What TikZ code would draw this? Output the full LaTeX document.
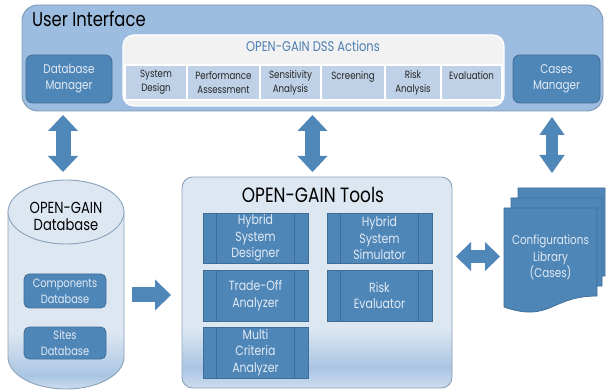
\documentclass[tikz,border=0pt]{standalone}
\usepackage{fontspec}
\setmainfont{Poppins}[FakeStretch=0.82]
\usetikzlibrary{arrows.meta,calc}
\definecolor{uiblue}{HTML}{9DBDE0}
\definecolor{uiedge}{HTML}{7E98B3}
\definecolor{dkblue}{HTML}{4F86B8}
\definecolor{dkedge}{HTML}{3E6D97}
\definecolor{dktext}{HTML}{E2EAF3}
\definecolor{panelc}{HTML}{F2F2F2}
\definecolor{cellc}{HTML}{BED1E6}
\definecolor{ttlblue}{HTML}{4A7DB2}
\definecolor{lightc}{HTML}{DDE7F2}
\definecolor{ledge}{HTML}{8DA3BA}
\definecolor{bandc}{HTML}{A9C5E3}
\definecolor{bottomc}{HTML}{D3E1EF}
\definecolor{arrowc}{HTML}{4F87B9}
\begin{document}
\begin{tikzpicture}[x=0.75pt,y=-0.75pt,
  every node/.style={inner sep=0pt, outer sep=0pt, align=center},
  dkbox/.style={draw=dkedge, fill=dkblue, text=dktext, rounded corners=5pt, line width=0.6pt,
    font=\fontsize{9.5}{12}\selectfont},
  cellbox/.style={draw=white, fill=cellc, line width=0.8pt, text=black!85,
    font=\fontsize{7.9}{10.5}\selectfont},
  toolbox/.style={draw=dkedge, fill=dkblue, text=dktext, line width=0.6pt,
    minimum width=105*0.75pt, font=\fontsize{10}{12.4}\selectfont,
    path picture={
      \draw[dkedge, line width=0.6pt] ([xshift=10pt]path picture bounding box.north west) -- ([xshift=10pt]path picture bounding box.south west);
      \draw[dkedge, line width=0.6pt] ([xshift=-10pt]path picture bounding box.north east) -- ([xshift=-10pt]path picture bounding box.south east);}},
  docsheet/.style={draw=dkedge, fill=dkblue, line width=0.6pt},
  barrowA/.style={draw=arrowc, line width=11.25pt,
    {Triangle[width=22.5pt,length=12pt,line width=0pt]}-{Triangle[width=22.5pt,length=12pt,line width=0pt]}},
  barrowB/.style={draw=arrowc, line width=9pt,
    {Triangle[width=19pt,length=13.5pt,line width=0pt]}-{Triangle[width=19pt,length=13.5pt,line width=0pt]}},
  barrowH/.style={draw=arrowc, line width=9.75pt,
    {Triangle[width=21.75pt,length=11.25pt,line width=0pt]}-{Triangle[width=21.75pt,length=11.25pt,line width=0pt]}},
  barrowS/.style={draw=arrowc, line width=11.25pt,
    -{Triangle[width=23.25pt,length=12pt,line width=0pt]}}
]
\useasboundingbox (0,0) rectangle (606,391);

% ---------- User interface ----------
\node[draw=uiedge, fill=uiblue, line width=0.7pt, rounded corners=12pt,
      minimum width=581*0.75pt, minimum height=106*0.75pt] (ui) at (312.5,58) {};
\node[anchor=west, font=\fontsize{15}{17}\selectfont] (uititle) at (32,19) {User Interface};

\node[dkbox, minimum width=86*0.75pt, minimum height=48*0.75pt] (dbm) at (69,79) {Database\\Manager};
\node[dkbox, minimum width=87*0.75pt, minimum height=48*0.75pt] (cm) at (556.5,79) {Cases\\Manager};

\node[draw=white, fill=panelc, line width=0.8pt, rounded corners=8pt,
      minimum width=381*0.75pt, minimum height=71*0.75pt] (dss) at (313.5,70.5) {};
\node[text=ttlblue, font=\fontsize{10.5}{12}\selectfont] (dsstitle) at (313,46) {OPEN-GAIN DSS Actions};

\node[cellbox, minimum width=62*0.75pt, minimum height=35*0.75pt] (c1) at (156,82.5) {System\\Design};
\node[cellbox, minimum width=73*0.75pt, minimum height=35*0.75pt] (c2) at (223.5,82.5) {Performance\\Assessment};
\node[cellbox, minimum width=61*0.75pt, minimum height=35*0.75pt] (c3) at (290.5,82.5) {Sensitivity\\Analysis};
\node[cellbox, minimum width=64*0.75pt, minimum height=35*0.75pt] (c4) at (353,82.5) {Screening\\~};
\node[cellbox, minimum width=56*0.75pt, minimum height=35*0.75pt] (c5) at (413,82.5) {Risk\\Analysis};
\node[cellbox, minimum width=61*0.75pt, minimum height=35*0.75pt] (c6) at (471.5,82.5) {Evaluation\\~};

% ---------- Database cylinder ----------
\def\cylbody{(8,212) -- (8,357) .. controls (8,374.7) and (34,389) .. (66,389) .. controls (98,389) and (124,374.7) .. (124,357) -- (124,212) -- cycle}
\fill[lightc] \cylbody;
\begin{scope}
  \clip \cylbody;
  \shade[top color=lightc, bottom color=bandc] (0,332) rectangle (130,376);
  \shade[top color=bandc, bottom color=bottomc] (0,375.5) rectangle (130,391);
\end{scope}
\draw[ledge, line width=0.7pt] \cylbody;
\fill[lightc] (66,212) ellipse [x radius=58, y radius=32];
\draw[ledge, line width=0.7pt] (66,212) ellipse [x radius=58, y radius=32];
\node[minimum width=116*0.75pt, minimum height=209*0.75pt] (cyl) at (66,284.5) {};
\node[font=\fontsize{12}{12.75}\selectfont] (dbtitle) at (66,216) {OPEN-GAIN\\Database};
\node[dkbox, rounded corners=4pt, minimum width=82*0.75pt, minimum height=34*0.75pt,
      font=\fontsize{9}{12}\selectfont] (comp) at (65,291) {Components\\Database};
\node[dkbox, rounded corners=4pt, minimum width=82*0.75pt, minimum height=32*0.75pt,
      font=\fontsize{9}{12}\selectfont] (sites) at (65,343) {Sites\\Database};

% ---------- Tools panel ----------
\def\toolsbody{[rounded corners=8pt] (182,177) rectangle (452,388)}
\fill[lightc] \toolsbody;
\begin{scope}
  \clip \toolsbody;
  \shade[top color=lightc, bottom color=bandc] (180,328) rectangle (455,368);
  \shade[top color=bandc, bottom color=bottomc] (180,367.5) rectangle (455,391);
\end{scope}
\node[draw=ledge, line width=0.7pt, rounded corners=8pt,
      minimum width=270*0.75pt, minimum height=211*0.75pt] (tools) at (317,282.5) {};
\node[font=\fontsize{15.5}{17}\selectfont] (toolstitle) at (313,195) {OPEN-GAIN Tools};

\node[toolbox, minimum height=50*0.75pt] (hsd) at (255.5,238) {Hybrid\\System\\Designer};
\node[toolbox, minimum height=50*0.75pt] (hss) at (379.5,238) {Hybrid\\System\\Simulator};
\node[toolbox, minimum height=51*0.75pt] (toa) at (255.5,295.5) {Trade-Off\\Analyzer};
\node[toolbox, minimum height=51*0.75pt] (rev) at (379.5,295.5) {Risk\\Evaluator};
\node[toolbox, minimum height=51*0.75pt] (mca) at (255.5,352.5) {Multi\\Criteria\\Analyzer};

% ---------- Configurations library ----------
\draw[docsheet] (518,188) -- (605,188) -- (605,276) .. controls (561.5,276) and (561.5,303) .. (518,287) -- cycle;
\draw[docsheet] (511,198) -- (602,198) -- (602,286) .. controls (556.5,286) and (556.5,313) .. (511,297) -- cycle;
\draw[docsheet] (504,208) -- (597,208) -- (597,296) .. controls (550.5,296) and (550.5,323) .. (504,307) -- cycle;
\node[minimum width=93*0.75pt, minimum height=99*0.75pt, text=dktext,
      font=\fontsize{9.5}{12.4}\selectfont] (lib) at (550.5,257.5) {Configurations\\Library\\(Cases)};

% ---------- Block arrows ----------
\draw[barrowA] ($(ui.south -| cyl.north)+(-3,4)$) -- ($(cyl.north)+(-3,-8)$);
\draw[barrowA] ($(dss.south)+(-1,9)$) -- ($(dss.south |- tools.north)+(-1,-5)$);
\draw[barrowB] ($(cm.south)+(-4.5,14)$) -- ($(cm.south |- lib.north)+(-4.5,-35)$);
\draw[barrowH] ($(tools.east |- lib.west)+(4,-1)$) -- ($(lib.west)+(-4,-1)$);
\draw[barrowS] ($(cyl.east |- comp.east)+(8,4)$) -- ($(tools.west |- comp.east)+(-11,4)$);
\end{tikzpicture}
\end{document}
